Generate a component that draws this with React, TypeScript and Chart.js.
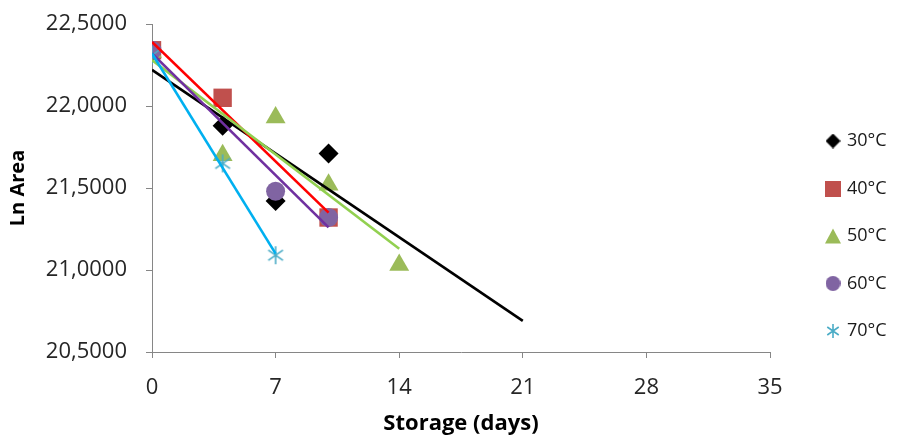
import React, { useEffect, useRef } from 'react';
import { Chart, registerables } from 'chart.js';

Chart.register(...registerables);

// ---- data ----
const seriesNames = ['30°C', '40°C', '50°C', '60°C', '70°C'];

const days30 = [0, 4, 7, 10];
const ln30 = [22.33, 21.88, 21.42, 21.71];
const days40 = [0, 4, 10];
const ln40 = [22.34, 22.05, 21.32];
const days50 = [0, 4, 7, 10, 14];
const ln50 = [22.33, 21.7, 21.93, 21.52, 21.03];
const days60 = [0, 7, 10];
const ln60 = [22.34, 21.48, 21.32];
const days70 = [0, 4, 7];
const ln70 = [22.31, 21.65, 21.09];

// linear trendline end points
const trendDays30 = [0, 21];
const trendLn30 = [22.22, 20.69];
const trendDays40 = [0, 10];
const trendLn40 = [22.39, 21.35];
const trendDays50 = [0, 14];
const trendLn50 = [22.28, 21.13];
const trendDays60 = [0, 10];
const trendLn60 = [22.32, 21.26];
const trendDays70 = [0, 7];
const trendLn70 = [22.32, 21.1];

const xTicks = [0, 7, 14, 21, 28, 35];
const xTickLabels = ['0', '7', '14', '21', '28', '35'];
const yTicks = [20.5, 21, 21.5, 22, 22.5];
const yTickLabels = ['20,5000', '21,0000', '21,5000', '22,0000', '22,5000'];

const xTitle = 'Storage (days)';
const yTitle = 'Ln Area';

const FONT = "'Open Sans', 'Noto Sans', sans-serif";

function toPoints(xs: number[], ys: number[]) {
  return xs.map((x, i) => ({ x, y: ys[i] }));
}

function makeMarker(style: string, color: string, size: number): HTMLCanvasElement {
  const c = document.createElement('canvas');
  c.width = size;
  c.height = size;
  const ctx = c.getContext('2d')!;
  ctx.fillStyle = color;
  ctx.strokeStyle = color;
  const h = size / 2;
  ctx.beginPath();
  if (style === 'diamond') {
    ctx.moveTo(h, 0);
    ctx.lineTo(size, h);
    ctx.lineTo(h, size);
    ctx.lineTo(0, h);
    ctx.closePath();
    ctx.fill();
  } else if (style === 'square') {
    ctx.rect(0, 0, size, size);
    ctx.fill();
  } else if (style === 'triangle') {
    ctx.moveTo(h, 0.5);
    ctx.lineTo(size, size - 0.5);
    ctx.lineTo(0, size - 0.5);
    ctx.closePath();
    ctx.fill();
  } else if (style === 'circle') {
    ctx.arc(h, h, h, 0, Math.PI * 2);
    ctx.fill();
  } else {
    ctx.lineWidth = 1.6;
    const r = h - 1;
    [90, 35, 145].forEach((deg) => {
      const a = (deg * Math.PI) / 180;
      const dx = Math.cos(a) * r;
      const dy = Math.sin(a) * r;
      ctx.moveTo(h - dx, h + dy);
      ctx.lineTo(h + dx, h - dy);
    });
    ctx.stroke();
  }
  return c;
}

const legendPlacer = {
  id: 'legendPlacer',
  beforeLayout(chart: any) {
    const lg = chart.legend;
    if (lg && !lg.__patched) {
      const orig = lg.fit;
      lg.fit = function () {
        orig.call(this);
        this.width = 131;
      };
      lg.__patched = true;
    }
  },
  afterLayout(chart: any) {
    const lg = chart.legend;
    if (!lg) return;
    const pad = lg.options.labels.padding;
    const dx = 828 - (lg.left + pad);
    lg.left += dx;
    lg.right += dx;
    const firstTop = lg.top + (lg.height + pad - lg.columnSizes[0].height) / 2;
    const dy = 132 - firstTop;
    lg.top += dy;
    lg.bottom += dy;
  },
};

export default function App() {
  const ref = useRef<HTMLCanvasElement | null>(null);

  useEffect(() => {
    if (!ref.current) return;
    const markerColors = ['#000000', '#C0504D', '#9BBB59', '#8064A2', '#4BACC6'];
    const lineColors = ['#000000', '#FF0000', '#92D050', '#7030A0', '#00B0F0'];
    const asterisk = makeMarker('asterisk', markerColors[4], 20);
    const legendMarkers = [
      makeMarker('diamond', markerColors[0], 15),
      makeMarker('square', markerColors[1], 16),
      makeMarker('triangle', markerColors[2], 16),
      makeMarker('circle', markerColors[3], 15),
      makeMarker('asterisk', markerColors[4], 16),
    ];
    const scatterSets = [
      { data: toPoints(days30, ln30), pointStyle: 'rectRot', pointRadius: 10 },
      { data: toPoints(days40, ln40), pointStyle: 'rect', pointRadius: 13 },
      { data: toPoints(days50, ln50), pointStyle: 'triangle', pointRadius: 11.5 },
      { data: toPoints(days60, ln60), pointStyle: 'circle', pointRadius: 9.5 },
      { data: toPoints(days70, ln70), pointStyle: asterisk, pointRadius: 10 },
    ].map((s, i) => ({
      type: 'scatter' as const,
      label: seriesNames[i],
      data: s.data,
      pointStyle: s.pointStyle as any,
      pointRadius: s.pointRadius,
      pointHoverRadius: s.pointRadius,
      backgroundColor: markerColors[i],
      borderColor: markerColors[i],
      borderWidth: 0,
      showLine: false,
      order: 10 - i,
    }));
    const trends = [
      [trendDays30, trendLn30],
      [trendDays40, trendLn40],
      [trendDays50, trendLn50],
      [trendDays60, trendLn60],
      [trendDays70, trendLn70],
    ].map(([xs, ys], i) => ({
      type: 'line' as const,
      label: 'trend ' + seriesNames[i],
      data: toPoints(xs, ys),
      borderColor: lineColors[i],
      backgroundColor: lineColors[i],
      borderWidth: 2.6,
      pointRadius: 0,
      fill: false,
      tension: 0,
      order: 5 - i,
    }));

    const defaultLabels = (Chart.defaults.plugins.legend.labels as any).generateLabels;

    const chart = new Chart(ref.current, {
      type: 'scatter',
      data: { datasets: [...scatterSets, ...trends] as any },
      plugins: [legendPlacer],
      options: {
        animation: false,
        responsive: false,
        events: [],
        layout: { padding: { left: 0, top: 24, right: 0, bottom: 0 } },
        plugins: {
          tooltip: { enabled: false },
          legend: {
            display: true,
            position: 'right',
            align: 'center',
            labels: {
              usePointStyle: true,
              boxWidth: 10,
              boxHeight: 12,
              padding: 29.5,
              color: '#1a1a1a',
              font: { family: FONT, size: 18 },
              generateLabels: (c: any) =>
                defaultLabels(c)
                  .filter((item: any) => item.datasetIndex < 5)
                  .sort((a: any, b: any) => a.datasetIndex - b.datasetIndex)
                  .map((item: any) => ({ ...item, pointStyle: legendMarkers[item.datasetIndex] })),
            },
          },
        },
        scales: {
          x: {
            type: 'linear',
            min: xTicks[0],
            max: xTicks[xTicks.length - 1],
            afterBuildTicks: (scale: any) => {
              scale.ticks = xTicks.map((v) => ({ value: v }));
            },
            afterFit: (scale: any) => {
              scale.height = 84;
              scale.paddingLeft = 0;
              scale.paddingRight = 0;
            },
            ticks: {
              color: '#262626',
              font: { family: FONT, size: 22 },
              padding: 17,
              maxRotation: 0,
              autoSkip: false,
              callback: (_v: any, i: number) => xTickLabels[i],
            },
            grid: {
              display: true,
              drawOnChartArea: false,
              drawTicks: true,
              tickLength: 6,
              color: '#868686',
            },
            border: { display: true, color: '#868686', width: 1 },
            title: {
              display: true,
              text: xTitle,
              color: '#000000',
              font: { family: FONT, size: 22, weight: 'bold' },
              padding: { top: 0, bottom: -1 },
            },
          },
          y: {
            type: 'linear',
            min: yTicks[0],
            max: yTicks[yTicks.length - 1],
            afterBuildTicks: (scale: any) => {
              scale.ticks = yTicks.map((v) => ({ value: v }));
            },
            afterFit: (scale: any) => {
              scale.width = 152;
              scale.paddingTop = 0;
              scale.paddingBottom = 0;
            },
            ticks: {
              color: '#262626',
              font: { family: FONT, size: 22 },
              padding: 19,
              autoSkip: false,
              callback: (_v: any, i: number) => yTickLabels[i],
            },
            grid: {
              display: true,
              drawOnChartArea: false,
              drawTicks: true,
              tickLength: 6,
              color: '#868686',
            },
            border: { display: true, color: '#868686', width: 1 },
            title: {
              display: true,
              text: yTitle,
              color: '#000000',
              font: { family: FONT, size: 20, weight: 'bold' },
              padding: { top: 6, bottom: 0 },
            },
          },
        },
      },
    });
    return () => chart.destroy();
  }, []);

  return (
    <div style={{ position: 'fixed', left: 0, top: 0, width: 901, height: 436, background: '#ffffff' }}>
      <canvas ref={ref} width={901} height={436} style={{ display: 'block', width: 901, height: 436 }} />
    </div>
  );
}
